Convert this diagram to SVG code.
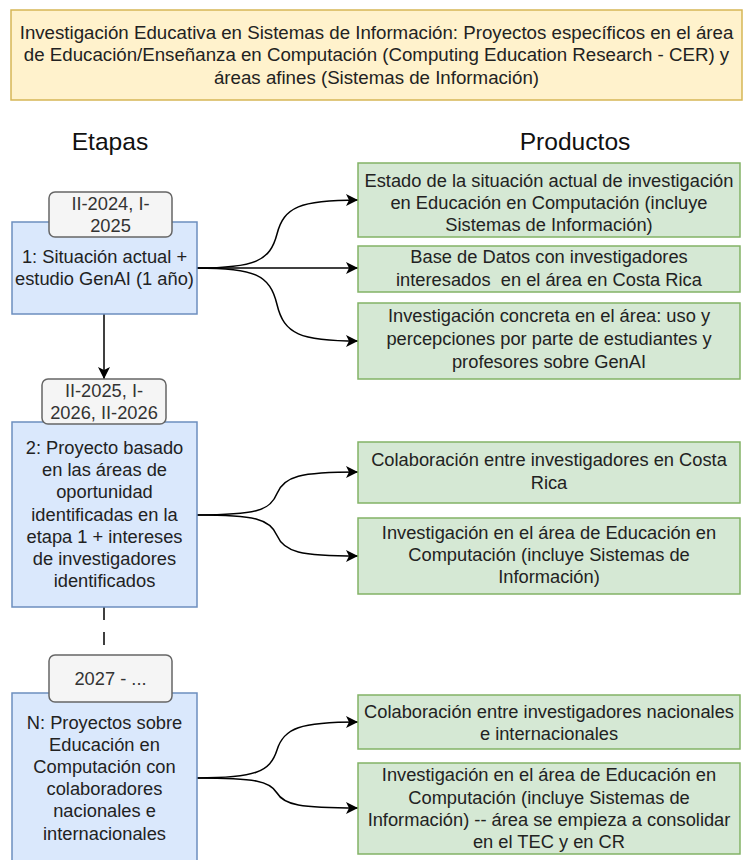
<svg xmlns="http://www.w3.org/2000/svg" width="745" height="860" viewBox="0 0 745 860">
<defs>
<marker id="arr" viewBox="0 0 12 12" refX="12" refY="6" markerWidth="12" markerHeight="12" markerUnits="userSpaceOnUse" orient="auto">
<path d="M0,0 L12,6 L0,12 L3,6 Z" fill="#000"/>
</marker>
<style>
text{font-family:"Liberation Sans",Arial,sans-serif;font-size:18.3px;fill:#222;text-anchor:middle;white-space:pre}
.title rect{fill:#fff2cc;stroke:#d6b656;stroke-width:1.5}
.title text{font-size:18.7px}
.stage rect.b{fill:#dae8fc;stroke:#6c8ebf;stroke-width:1.5}
.tag rect{fill:#f5f5f5;stroke:#666;stroke-width:1.5}
.tag text{fill:#333}
.prod rect{fill:#d5e8d4;stroke:#82b366;stroke-width:1.5}
.head{font-size:24.6px;fill:#111}
.edges path{fill:none;stroke:#000;stroke-width:1.5}
.edges path.a{marker-end:url(#arr)}
</style>
</defs>
<rect width="745" height="860" fill="#fff"/>

<g id="title" class="title">
<rect x="11" y="10" width="731" height="90"/>
<text x="376.5" y="38.5">Investigación Educativa en Sistemas de Información: Proyectos específicos en el área</text>
<text x="376.5" y="61">de Educación/Enseñanza en Computación (Computing Education Research - CER) y</text>
<text x="376.5" y="83.5">áreas afines (Sistemas de Información)</text>
</g>

<g id="heading-etapas"><text class="head" x="110" y="150">Etapas</text></g>
<g id="heading-productos"><text class="head" x="575" y="150">Productos</text></g>

<g id="edges" class="edges">
<path class="a" d="M104,314 L104,379"/>
<path d="M104,607 L104,655" stroke-dasharray="13 12"/>
<path class="a" d="M197,268 C255,268 270,261 277,234 S300,200 358,200"/>
<path class="a" d="M197,268 L358,268"/>
<path class="a" d="M197,268 C255,268 270,275 277,304.5 S300,341 358,341"/>
<path class="a" d="M197,515 C255,515 270,511 277,493.5 S300,472 358,472"/>
<path class="a" d="M197,515 C255,515 270,519 277,535.5 S300,556 358,556"/>
<path class="a" d="M197,778 C255,778 270,772 277,750 S300,722 358,722"/>
<path class="a" d="M197,778 C255,778 270,781 277,793 S300,808 358,808"/>
</g>

<g id="stage1" class="stage">
<rect class="b" x="12" y="222" width="185" height="92"/>
<text x="104.5" y="263">1: Situación actual +</text>
<text x="104.5" y="285">estudio GenAI (1 año)</text>
</g>
<g id="tag1" class="tag">
<rect x="49" y="192" width="123" height="45" rx="6"/>
<text x="110.5" y="210">II-2024, I-</text>
<text x="110.5" y="232">2025</text>
</g>

<g id="stage2" class="stage">
<rect class="b" x="12" y="422" width="185" height="185"/>
<text x="104.5" y="454">2: Proyecto basado</text>
<text x="104.5" y="476.2">en las áreas de</text>
<text x="104.5" y="498.4">oportunidad</text>
<text x="104.5" y="520.6">identificadas en la</text>
<text x="104.5" y="542.8">etapa 1 + intereses</text>
<text x="104.5" y="565">de investigadores</text>
<text x="104.5" y="587.2">identificados</text>
</g>
<g id="tag2" class="tag">
<rect x="42" y="379" width="124" height="45" rx="6"/>
<text x="104" y="397">II-2025, I-</text>
<text x="104" y="419">2026, II-2026</text>
</g>

<g id="stageN" class="stage">
<rect class="b" x="12" y="693" width="185" height="170"/>
<text x="104.5" y="728.5">N: Proyectos sobre</text>
<text x="104.5" y="750.7">Educación en</text>
<text x="104.5" y="772.9">Computación con</text>
<text x="104.5" y="795.1">colaboradores</text>
<text x="104.5" y="817.3">nacionales e</text>
<text x="104.5" y="839.5">internacionales</text>
</g>
<g id="tagN" class="tag">
<rect x="49" y="655" width="123" height="47" rx="6"/>
<text x="110.5" y="685">2027 - ...</text>
</g>

<g id="prodA" class="prod">
<rect x="358" y="163" width="382" height="74"/>
<text x="549" y="187">Estado de la situación actual de investigación</text>
<text x="549" y="209">en Educación en Computación (incluye</text>
<text x="549" y="231">Sistemas de Información)</text>
</g>
<g id="prodB" class="prod">
<rect x="358" y="246" width="382" height="46"/>
<text x="549" y="263">Base de Datos con investigadores</text>
<text x="549" y="286">interesados  en el área en Costa Rica</text>
</g>
<g id="prodC" class="prod">
<rect x="358" y="303" width="382" height="76"/>
<text x="549" y="322">Investigación concreta en el área: uso y</text>
<text x="549" y="345">percepciones por parte de estudiantes y</text>
<text x="549" y="368">profesores sobre GenAI</text>
</g>
<g id="prodD" class="prod">
<rect x="358" y="442" width="382" height="61"/>
<text x="549" y="466">Colaboración entre investigadores en Costa</text>
<text x="549" y="489">Rica</text>
</g>
<g id="prodE" class="prod">
<rect x="358" y="518" width="382" height="76"/>
<text x="549" y="539">Investigación en el área de Educación en</text>
<text x="549" y="561">Computación (incluye Sistemas de</text>
<text x="549" y="583">Información)</text>
</g>
<g id="prodF" class="prod">
<rect x="358" y="695" width="382" height="54"/>
<text x="549" y="718">Colaboración entre investigadores nacionales</text>
<text x="549" y="740">e internacionales</text>
</g>
<g id="prodG" class="prod">
<rect x="358" y="763" width="382" height="91"/>
<text x="549" y="781">Investigación en el área de Educación en</text>
<text x="549" y="804">Computación (incluye Sistemas de</text>
<text x="549" y="826">Información) -- área se empieza a consolidar</text>
<text x="549" y="848">en el TEC y en CR</text>
</g>
</svg>
